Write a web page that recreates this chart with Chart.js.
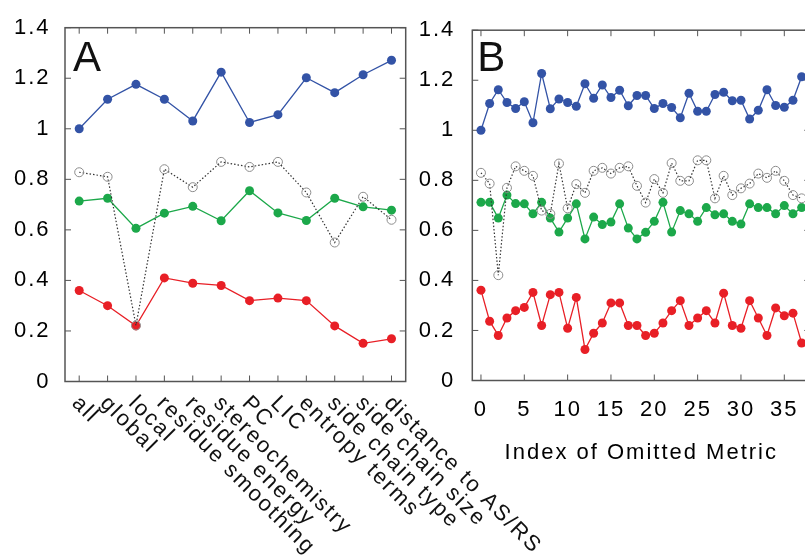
<!DOCTYPE html>
<html>
<head>
<meta charset="utf-8">
<script src="https://cdn.jsdelivr.net/npm/chart.js@4.4.1/dist/chart.umd.min.js"></script>
<style>
  html, body { margin: 0; padding: 0; background: #fff; }
  #wrap { position: relative; width: 805px; height: 559px; overflow: hidden; }
  #chartA { position: absolute; left: 0; top: 0; }
  #chartB { position: absolute; left: 410px; top: 0; }
</style>
</head>
<body>
<div id="wrap">
  <canvas id="chartA" width="580" height="559"></canvas>
  <canvas id="chartB" width="410" height="559"></canvas>
</div>
<script>
// panel A: omitted metric groups
const metricsA = ["all", "global", "local", "residue smoothing", "residue energy", "stereochemistry",
  "PC", "LIC", "entropy terms", "side chain type", "side chain size", "distance to AS/RS"];
const blueA  = [1.0, 1.117, 1.176, 1.117, 1.031, 1.224, 1.025, 1.056, 1.202, 1.143, 1.214, 1.271];
const grayA  = [0.828, 0.81, 0.222, 0.84, 0.769, 0.869, 0.849, 0.869, 0.748, 0.55, 0.731, 0.64];
const greenA = [0.714, 0.725, 0.606, 0.666, 0.693, 0.636, 0.755, 0.667, 0.637, 0.725, 0.691, 0.678];
const redA   = [0.36, 0.30, 0.22, 0.41, 0.389, 0.38, 0.32, 0.33, 0.32, 0.22, 0.151, 0.169];

// panel B: index of omitted metric
const indexB = [0, 1, 2, 3, 4, 5, 6, 7, 8, 9, 10, 11, 12, 13, 14, 15, 16, 17, 18, 19,
  20, 21, 22, 23, 24, 25, 26, 27, 28, 29, 30, 31, 32, 33, 34, 35, 36, 37];
const blueB  = [1.0, 1.107, 1.162, 1.111, 1.087, 1.114, 1.030, 1.227, 1.086, 1.125, 1.111, 1.096, 1.186,
  1.128, 1.181, 1.131, 1.160, 1.098, 1.139, 1.139, 1.087, 1.107, 1.091, 1.050, 1.148, 1.076, 1.076,
  1.143, 1.152, 1.118, 1.120, 1.045, 1.080, 1.162, 1.099, 1.092, 1.120, 1.214];
const grayB  = [0.830, 0.787, 0.421, 0.770, 0.856, 0.838, 0.818, 0.679, 0.666, 0.867, 0.688, 0.785, 0.750,
  0.838, 0.850, 0.827, 0.850, 0.856, 0.778, 0.711, 0.805, 0.750, 0.869, 0.798, 0.798, 0.880, 0.880,
  0.728, 0.818, 0.741, 0.768, 0.787, 0.827, 0.810, 0.838, 0.798, 0.741, 0.728];
const greenB = [0.712, 0.712, 0.649, 0.741, 0.707, 0.706, 0.666, 0.712, 0.649, 0.593, 0.649, 0.706, 0.566,
  0.653, 0.623, 0.633, 0.706, 0.609, 0.566, 0.592, 0.636, 0.712, 0.593, 0.679, 0.666, 0.636, 0.691,
  0.662, 0.666, 0.636, 0.625, 0.706, 0.691, 0.691, 0.666, 0.699, 0.666, 0.691];
const redB   = [0.361, 0.237, 0.180, 0.250, 0.279, 0.292, 0.352, 0.220, 0.343, 0.352, 0.209, 0.332, 0.124,
  0.189, 0.230, 0.310, 0.310, 0.220, 0.220, 0.180, 0.189, 0.230, 0.279, 0.319, 0.220, 0.250, 0.279,
  0.230, 0.349, 0.220, 0.209, 0.319, 0.250, 0.180, 0.290, 0.259, 0.269, 0.150];

const yTicks = [0, 0.2, 0.4, 0.6, 0.8, 1, 1.2, 1.4];
const xTicksB = [0, 5, 10, 15, 20, 25, 30, 35];

const FONT = { family: "'Liberation Sans', Arial, sans-serif", size: 22 };
const BLUE = "#3353a6", GREEN = "#1ca84a", RED = "#e81f26";

function solid(data, color) {
  return {
    data: data,
    borderColor: color,
    backgroundColor: color,
    borderWidth: 1.3,
    pointRadius: 4.5,
    pointBorderWidth: 0,
    pointBackgroundColor: color,
    tension: 0
  };
}
function open(data) {
  return {
    data: data,
    borderColor: "#333",
    borderWidth: 1.2,
    borderDash: [1.5, 2],
    pointRadius: 4.5,
    pointBorderWidth: 1,
    pointBorderColor: "#8c8c8c",
    pointBackgroundColor: "rgba(0,0,0,0)",
    tension: 0
  };
}
function xy(vals) {
  return vals.map((v, i) => ({ x: indexB[i], y: v }));
}

// gnuplot-like frame with inward ticks on all four sides
const frame = {
  id: "frame",
  beforeDraw(chart) {
    chart.ctx.letterSpacing = "2px";
  },
  beforeDatasetsDraw(chart) {
    const { ctx, chartArea: a, scales } = chart;
    ctx.save();
    ctx.strokeStyle = "#555";
    ctx.lineWidth = 1;
    ctx.beginPath();
    scales.y.ticks.forEach((t, i) => {
      const y = scales.y.getPixelForTick(i);
      ctx.moveTo(a.left, y); ctx.lineTo(a.left + 6, y);
      ctx.moveTo(a.right, y); ctx.lineTo(a.right - 6, y);
    });
    scales.x.ticks.forEach((t, i) => {
      const x = scales.x.getPixelForTick(i);
      ctx.moveTo(x, a.bottom); ctx.lineTo(x, a.bottom - 6);
      ctx.moveTo(x, a.top); ctx.lineTo(x, a.top + 6);
    });
    ctx.stroke();
    ctx.lineWidth = 1.5;
    ctx.strokeRect(a.left, a.top, a.right - a.left, a.bottom - a.top);
    ctx.restore();
  },
  afterDraw(chart, args, opts) {
    const { ctx, chartArea: a, scales } = chart;
    ctx.save();
    ctx.fillStyle = "#111";
    ctx.letterSpacing = "0px";
    ctx.font = "42px 'Liberation Sans', Arial, sans-serif";
    ctx.textBaseline = "alphabetic";
    ctx.fillText(opts.letter, a.left + opts.dx, a.top + opts.dy);
    if (opts.slanted) {
      // category names run down-right from each tick
      ctx.letterSpacing = "2px";
      ctx.font = FONT.size + "px " + FONT.family;
      ctx.textAlign = "left";
      ctx.textBaseline = "middle";
      chart.data.labels.forEach((lab, i) => {
        ctx.save();
        ctx.translate(scales.x.getPixelForTick(i) - 4, a.bottom + 18.5);
        ctx.rotate(Math.PI / 4);
        ctx.fillText(lab, 0, 0);
        ctx.restore();
      });
    }
    ctx.restore();
  }
};

const yAxis = (w, pad) => ({
  min: 0,
  max: 1.4,
  grid: { display: false, drawTicks: false },
  border: { display: false },
  ticks: { font: FONT, color: "#000", padding: pad, callback: v => String(v) },
  afterBuildTicks: s => { s.ticks = yTicks.map(v => ({ value: v })); },
  afterFit: s => { s.width = w; }
});

new Chart(document.getElementById("chartA"), {
  type: "line",
  data: {
    labels: metricsA,
    datasets: [solid(blueA, BLUE), open(grayA), solid(greenA, GREEN), solid(redA, RED)]
  },
  plugins: [frame],
  options: {
    responsive: false,
    animation: false,
    layout: { padding: { left: 0, top: 24.5, right: 174.3, bottom: 0 } },
    plugins: {
      legend: { display: false },
      tooltip: { enabled: false },
      frame: { letter: "A", dx: 8, dy: 43.5, slanted: true }
    },
    scales: {
      x: {
        type: "category",
        offset: true,
        grid: { display: false, drawTicks: false },
        border: { display: false },
        ticks: { display: false },
        afterFit: s => { s.height = 177.5; }
      },
      y: yAxis(65, 14.5)
    }
  }
});

new Chart(document.getElementById("chartB"), {
  type: "line",
  data: {
    datasets: [solid(xy(blueB), BLUE), open(xy(grayB)), solid(xy(greenB), GREEN), solid(xy(redB), RED)]
  },
  plugins: [frame],
  options: {
    responsive: false,
    animation: false,
    layout: { padding: { left: 0, top: 27, right: 9.7, bottom: 0 } },
    plugins: {
      legend: { display: false },
      tooltip: { enabled: false },
      frame: { letter: "B", dx: 5, dy: 41, slanted: false }
    },
    scales: {
      x: {
        type: "linear",
        min: -1,
        max: 38,
        grid: { display: false, drawTicks: false },
        border: { display: false },
        ticks: { font: FONT, color: "#000", padding: 16, maxRotation: 0, autoSkip: false },
        title: { display: true, text: "Index of Omitted Metric", font: FONT, color: "#000",
                 padding: { top: 0, bottom: 93 } },
        afterBuildTicks: s => { s.ticks = xTicksB.map(v => ({ value: v })); },
        afterFit: s => { s.height = 178.5; }
      },
      y: yAxis(62.3, 17)
    }
  }
});
</script>
</body>
</html>
